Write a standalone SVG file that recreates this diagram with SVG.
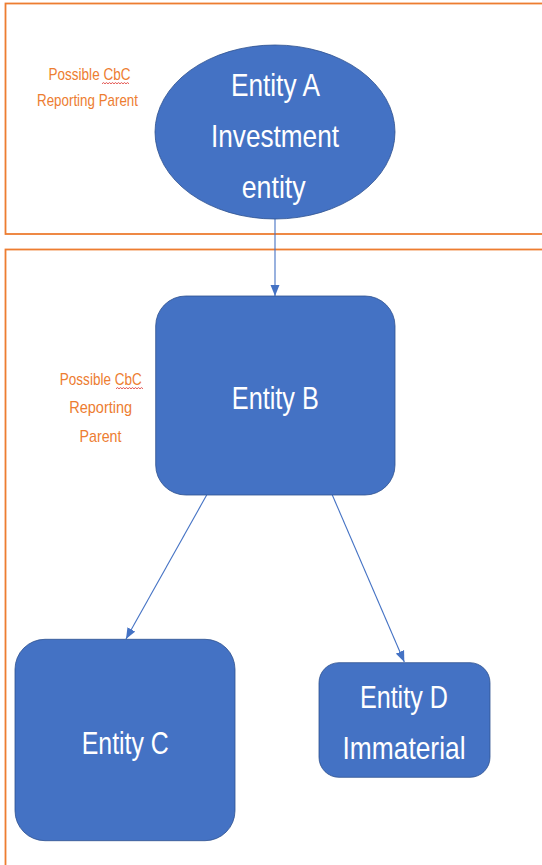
<svg xmlns="http://www.w3.org/2000/svg" width="542" height="865" viewBox="0 0 542 865">
  <defs>
    <style>
      .frame { fill: none; stroke: #ED7D31; stroke-width: 1.8; }
      .node { fill: #4472C4; stroke: #2F528F; stroke-width: 0.8; }
      .ntext { fill: #FFFFFF; font-family: "Liberation Sans Narrow", "Liberation Sans", Arial, sans-serif; font-size: 31.5px; text-anchor: middle; }
      .label { fill: #ED7D31; font-family: "Liberation Sans Narrow", "Liberation Sans", Arial, sans-serif; font-size: 17px; text-anchor: middle; }
      .squiggle { fill: none; stroke: #E0443E; stroke-width: 0.9; }
      .edge { fill: none; stroke: #4472C4; stroke-width: 1.1; }
    </style>
    <marker id="arrow" markerUnits="userSpaceOnUse" markerWidth="12" markerHeight="10" viewBox="0 0 12 10" refX="11" refY="5" orient="auto">
      <path d="M0,0.5 L11,5 L0,9.5 Z" fill="#4472C4"/>
    </marker>
  </defs>

  <g id="frames">
    <rect class="frame" x="5.5" y="3.5" width="560" height="230.5"/>
    <rect class="frame" x="5.5" y="249.5" width="560" height="640"/>
  </g>

  <g id="labels">
    <text class="label" x="89.5" y="80" textLength="82" lengthAdjust="spacingAndGlyphs">Possible CbC</text>
    <path class="squiggle" d="M102,83.8 l1.5,-1.2 l1.5,1.2 l1.5,-1.2 l1.5,1.2 l1.5,-1.2 l1.5,1.2 l1.5,-1.2 l1.5,1.2 l1.5,-1.2 l1.5,1.2 l1.5,-1.2 l1.5,1.2 l1.5,-1.2 l1.5,1.2 l1.5,-1.2 l1.5,1.2 l1.5,-1.2 l1.5,1.2"/>
    <text class="label" x="87.5" y="106" textLength="101" lengthAdjust="spacingAndGlyphs">Reporting Parent</text>

    <text class="label" x="100.8" y="385" textLength="82" lengthAdjust="spacingAndGlyphs">Possible CbC</text>
    <path class="squiggle" d="M116,388.8 l1.5,-1.2 l1.5,1.2 l1.5,-1.2 l1.5,1.2 l1.5,-1.2 l1.5,1.2 l1.5,-1.2 l1.5,1.2 l1.5,-1.2 l1.5,1.2 l1.5,-1.2 l1.5,1.2 l1.5,-1.2 l1.5,1.2 l1.5,-1.2 l1.5,1.2 l1.5,-1.2 l1.5,1.2"/>
    <text class="label" x="100.7" y="413" textLength="63" lengthAdjust="spacingAndGlyphs">Reporting</text>
    <text class="label" x="100.5" y="442" textLength="42" lengthAdjust="spacingAndGlyphs">Parent</text>
  </g>

  <g id="connectors">
    <line class="edge" x1="275" y1="219" x2="275" y2="296" marker-end="url(#arrow)"/>
    <line class="edge" x1="206.7" y1="495" x2="126" y2="639" marker-end="url(#arrow)"/>
    <line class="edge" x1="332.3" y1="495" x2="404.3" y2="662" marker-end="url(#arrow)"/>
  </g>

  <g id="entity-a">
    <ellipse class="node" cx="275" cy="132" rx="120" ry="87"/>
    <text class="ntext" x="275.4" y="96" textLength="89" lengthAdjust="spacingAndGlyphs">Entity A</text>
    <text class="ntext" x="275" y="147" textLength="128" lengthAdjust="spacingAndGlyphs">Investment</text>
    <text class="ntext" x="273.7" y="198" textLength="64" lengthAdjust="spacingAndGlyphs">entity</text>
  </g>

  <g id="entity-b">
    <rect class="node" x="155.7" y="296" width="239.3" height="199" rx="30" ry="30"/>
    <text class="ntext" x="275.3" y="409" textLength="87" lengthAdjust="spacingAndGlyphs">Entity B</text>
  </g>

  <g id="entity-c">
    <rect class="node" x="15" y="639.3" width="220" height="201.4" rx="30" ry="30"/>
    <text class="ntext" x="125.3" y="754" textLength="87" lengthAdjust="spacingAndGlyphs">Entity C</text>
  </g>

  <g id="entity-d">
    <rect class="node" x="319" y="662.7" width="171" height="114.6" rx="20" ry="20"/>
    <text class="ntext" x="403.9" y="707.7" textLength="88" lengthAdjust="spacingAndGlyphs">Entity D</text>
    <text class="ntext" x="404" y="759" textLength="123" lengthAdjust="spacingAndGlyphs">Immaterial</text>
  </g>
</svg>
